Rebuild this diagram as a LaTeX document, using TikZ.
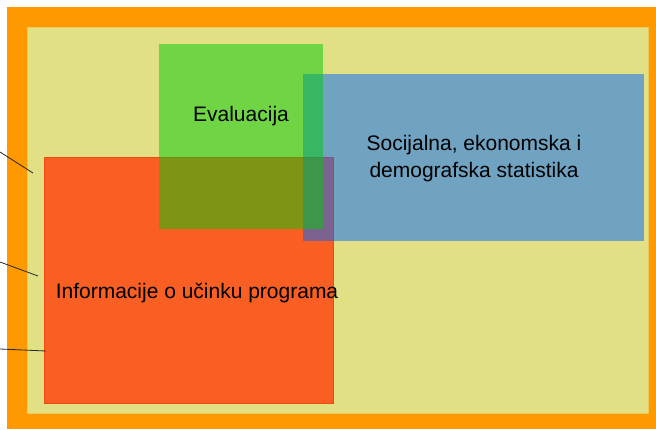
\documentclass[tikz,border=0pt]{standalone}
\usepackage{fontspec}
\setmainfont{Liberation Sans}
\definecolor{frameorange}{RGB}{255,153,0}
\definecolor{paleyellow}{RGB}{225,224,133}
\definecolor{evalgreen}{RGB}{0,204,7}
\definecolor{statblue}{RGB}{1,102,253}
\definecolor{infored}{RGB}{249,95,34}
\tikzstyle{txt} = [font=\fontsize{21}{27}\selectfont, text=black, align=center, inner sep=0pt]
\tikzstyle{area} = [fill opacity=0.5]
\tikzstyle{pointer} = [draw=black!85, line width=0.8pt]

\begin{document}
\begin{tikzpicture}[x=1pt, y=-1pt]
\useasboundingbox (0,0) rectangle (656,429);

\fill[frameorange] (7,7) rectangle (656,429);
\draw[fill=paleyellow, draw={rgb,255:red,240;green,200;blue,90}, line width=0.6pt] (27,27) rectangle (648,413);

\draw[fill=infored, draw={rgb,255:red,240;green,75;blue,15}, line width=0.8pt] (44,157) rectangle (333,403);
\fill[statblue, area] (303,74) rectangle (644,241);
\fill[evalgreen, area] (159,44) rectangle (323,229);

\node[txt] (evaluacija) at (241,116) {Evaluacija};
\node[txt] (statistika) at (474,159) {Socijalna, ekonomska i\\demografska statistika};
\node[txt] (ucinak) at (197,293) {Informacije o učinku programa};

\coordinate (from1) at (0,152);
\coordinate (to1) at (33,173);
\coordinate (from2) at (0,262);
\coordinate (to2) at (38,276);
\coordinate (from3) at (0,349);
\coordinate (to3) at (46,351);
\draw[pointer] (from1) -- (to1);
\draw[pointer] (from2) -- (to2);
\draw[pointer] (from3) -- (to3);

\end{tikzpicture}
\end{document}
